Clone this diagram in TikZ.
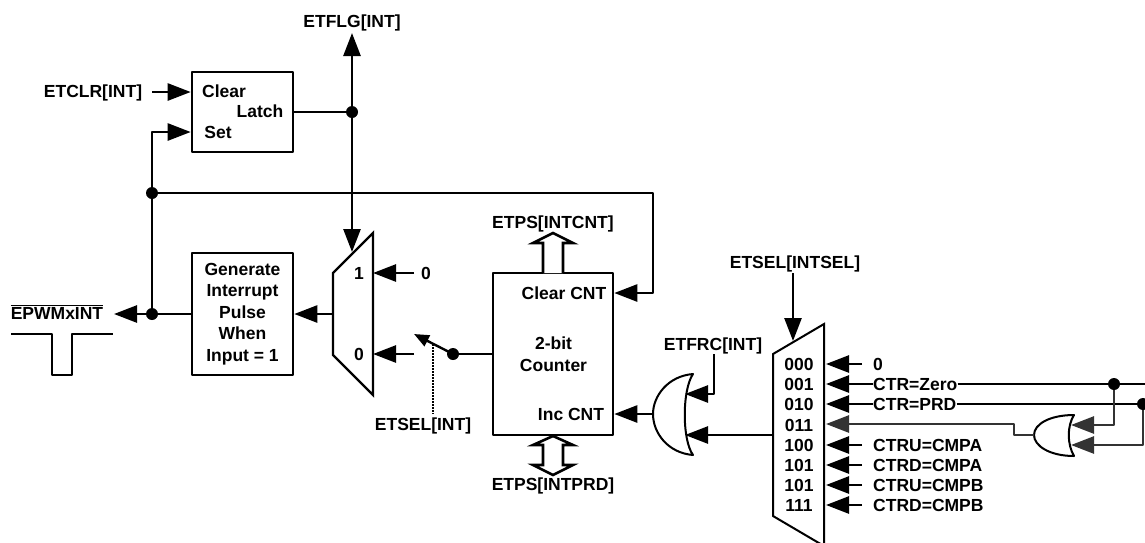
\documentclass[tikz,border=0pt]{standalone}
\usepackage{fontspec}
\setmainfont{Liberation Sans}
\usetikzlibrary{arrows.meta}
\tikzset{
	blockbox/.style={draw,line width=2.6pt,inner sep=0pt,align=center},
	sig/.style={line width=2.6pt,-{Triangle[length=23pt,width=17pt]}},
	plain/.style={line width=2.6pt},
	lbl/.style={inner sep=0pt,align=center},
	gate/.style={line width=2pt,fill=white},
	hollow/.style={line width=2.6pt,line join=miter,fill=white}
}
\begin{document}
\begin{tikzpicture}[x=1pt,y=-1pt,line join=round,font=\fontsize{17.5}{21.5}\selectfont\bfseries]
	\useasboundingbox (0,0) rectangle (1145,542);
	% Khoi chinh
	\node[blockbox,minimum width=101pt,minimum height=80pt] (latch) at (242.5,112) {};
	\node[blockbox,minimum width=101pt,minimum height=122pt] (pulse) at (242.5,314) {Generate\\Interrupt\\Pulse\\When\\Input = 1};
	\node[blockbox,minimum width=120pt,minimum height=162pt] (counter) at (553,354) {};
	\node[lbl] (clear) at (224,91) {Clear};
	\node[lbl] (latchtxt) at (260,111) {Latch};
	\node[lbl] (set) at (218,132) {Set};
	\node[lbl] (clearcnt) at (564,293) {Clear CNT};
	\node[lbl] (cnttxt) at (553.5,354) {2-bit\\Counter};
	\node[lbl] (inccnt) at (571,414) {Inc CNT};
	% Nhan
	\node[lbl] (etflg) at (352,23) {ETFLG[INT]};
	\node[lbl] (etclr) at (93,93) {ETCLR[INT]};
	\node[lbl] (epwm) at (57,312) {$\overline{\mbox{EPWMxINT}}$};
	\node[lbl] (etsel) at (423,426) {ETSEL[INT]};
	\node[lbl] (intcnt) at (553,224) {ETPS[INTCNT]};
	\node[lbl] (intprd) at (553,486) {ETPS[INTPRD]};
	\node[lbl] (etfrc) at (713,346) {ETFRC[INT]};
	\node[lbl] (intsel) at (795,264) {ETSEL[INTSEL]};
	\node[lbl] (one) at (359,273) {1};
	\node[lbl] (zero) at (359,354) {0};
	\node[lbl] (vone) at (426,273) {0};
	\path
	(152,92) coordinate (A1)
	(152,132) coordinate (A2)
	(152,193) coordinate (J1)
	(152,314) coordinate (J2)
	(352,112) coordinate (J3)
	(453,354) coordinate (J4)
	(1114,384) coordinate (J5)
	(1143,404) coordinate (J6)
	(653,193) coordinate (B1)
	(653,293) coordinate (B2)
	(333,314) coordinate (M1)
	(373,273) coordinate (M2)
	(373,354) coordinate (M3)
	(414,273) coordinate (M4)
	(414,354) coordinate (M5)
	(352,252) coordinate (M6)
	(433,344) coordinate (W1)
	(433,414) coordinate (W2)
	(414,334) coordinate (W3);
	% Mux ben trai
	\draw[line width=2.4pt,line join=miter] (333,273) -- (373,233) -- (373,395) -- (333,355) -- cycle;
	% Mux ben phai
	\draw[line width=2pt,line join=miter] (824,324) -- (773,354) -- (773,516) -- (824,546) -- cycle;
	% Ket noi
	\draw[sig] (A1) -- (latch.west |- A1);
	\draw[sig] (J2) -- (A2) -- (latch.west |- A2);
	\draw[plain] (latch.east |- J3) -- (J3);
	\draw[sig] (J3) -- (352,33);
	\draw[sig] (J3) -- (M6);
	\draw[sig] (J1) -- (B1) -- (B2) -- (counter.east |- B2);
	\draw[sig] (M1) -- (pulse.east |- M1);
	\draw[plain] (pulse.west |- J2) -- (J2);
	\draw[sig] (J2) -- (114,314);
	\draw[sig] (M4) -- (M2);
	\draw[sig] (M5) -- (M3);
	\draw[plain] (counter.west |- J4) -- (J4);
	\draw[line width=2.4pt,-{Triangle[length=15pt,width=12pt]}] (J4) -- (W3);
	\draw[line width=2pt,dash pattern=on 2pt off 1pt] (W1) -- (W2);
	% Xung
	\draw[line width=2pt] (11,334) -- (52,334) -- (52,375) -- (72,375) -- (72,334) -- (113,334);
	% Mui ten rong
	\draw[hollow] (543,273) -- (543,243) -- (533,243) -- (553,233) -- (573,243) -- (563,243) -- (563,273);
	\draw[hollow] (543,445) -- (533,445) -- (553,436) -- (573,445) -- (563,445) -- (563,465) -- (573,465) -- (553,475) -- (533,465) -- (543,465) -- cycle;
	% Cong OR
	\draw[gate] (693,374) .. controls (668,376) and (653,396) .. (653,414) .. controls (653,433) and (668,453) .. (693,455) .. controls (682,440) and (682,390) .. (693,374) -- cycle;
	\draw[gate] (1074,415) .. controls (1050,415) and (1034,424) .. (1034,435) .. controls (1034,446) and (1050,456) .. (1074,456) .. controls (1067,444) and (1067,426) .. (1074,415) -- cycle;
	\draw[sig] (653,414) -- (counter.east |- 0,414);
	\draw[sig] (714,354) -- (714,394) -- (685,394);
	\draw[sig] (773,435) -- (685,435);
	\draw[sig] (793,273) -- (793,341);
	% Cac ngo vao mux
	\foreach \y/\m/\t in {364/000/0,425/011/,445/100/CTRU=CMPA,465/101/CTRD=CMPA,485/101/CTRU=CMPB,505/111/CTRD=CMPB}{
		\node[lbl] (m\m\y) at (799,\y) {\m};
		\node[lbl,anchor=west] (s\y) at (873,\y) {\t};
	}
	\node[lbl] (m001) at (799,384) {001};
	\node[lbl] (m010) at (799,404) {010};
	\node[lbl,anchor=west] (zeroin) at (873,384) {CTR=Zero};
	\node[lbl,anchor=west] (prdin) at (873,404) {CTR=PRD};
	\foreach \y in {364,445,465,485,505}{
		\draw[sig] (862,\y) -- (826,\y);
	}
	\draw[sig] (zeroin.west) -- (826,384);
	\draw[sig] (prdin.west) -- (826,404);
	\draw[plain] (zeroin.east) -- (1145,384);
	\draw[plain] (prdin.east) -- (1145,404);
	\draw[sig,black!80] (1034,435) -- (1014,435) -- (1014,424) -- (826,424);
	\draw[sig,black!80] (J5) -- (1114,425) -- (1071,425);
	\draw[sig,black!80] (J6) -- (1143,445) -- (1071,445);
	\foreach \t in {J1,J2,J3,J4,J5,J6}{
		\fill (\t) circle (6pt);
	}
\end{tikzpicture}
\end{document}
